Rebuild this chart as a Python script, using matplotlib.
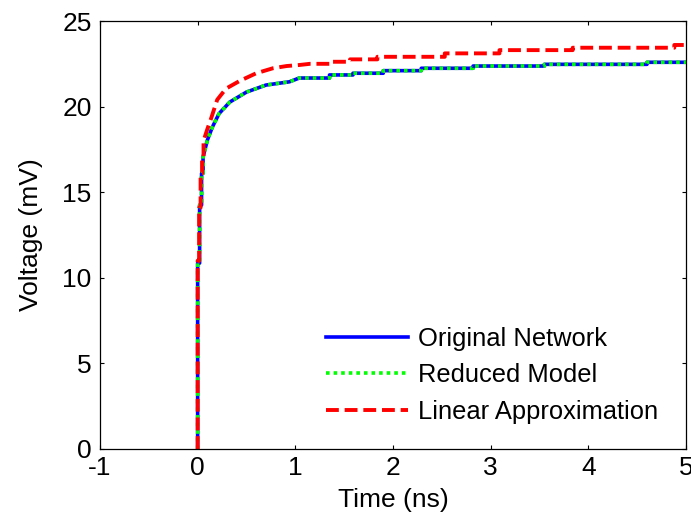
import numpy as np
import matplotlib
matplotlib.use('Agg')
import matplotlib.pyplot as plt

plt.rcParams['font.family'] = ['Liberation Sans', 'DejaVu Sans']
plt.rcParams['axes.unicode_minus'] = False

# time (ns) and voltage (mV)
t_orig = [0.0, 0.0, 0.02, 0.02, 0.04, 0.04, 0.055, 0.055, 0.1, 0.15, 0.22, 0.33, 0.5, 0.7, 0.94,
          1.04, 1.35, 1.35, 1.59, 1.59, 1.9, 1.9, 2.29, 2.29, 2.82, 2.82, 3.55, 3.55, 4.6, 4.6, 5.0]
v_orig = [0.0, 10.86, 10.86, 14.25, 14.25, 16.1, 16.1, 17.05, 18.05, 18.8, 19.6, 20.27, 20.85, 21.26, 21.45,
          21.67, 21.67, 21.85, 21.85, 21.95, 21.95, 22.1, 22.1, 22.24, 22.24, 22.37, 22.37, 22.47, 22.47, 22.59, 22.59]

t_red = [0.0, 0.0, 0.015, 0.015, 0.03, 0.03, 0.045, 0.045, 0.06, 0.06, 0.1, 0.14, 0.2, 0.29, 0.43, 0.6,
         0.77, 0.91, 1.04, 1.15, 1.35, 1.35, 1.56, 1.56, 1.84, 1.84, 2.53, 2.53, 3.09, 3.09, 3.84, 3.84,
         4.88, 4.88, 5.0]
v_red = [0.0, 11.0, 11.0, 14.1, 14.1, 16.1, 16.1, 17.05, 17.05, 18.0, 18.7, 19.35, 20.4, 21.05, 21.5, 21.95,
         22.24, 22.37, 22.43, 22.5, 22.5, 22.62, 22.62, 22.76, 22.76, 22.91, 22.91, 23.11, 23.11, 23.3, 23.3, 23.44,
         23.44, 23.6, 23.6]

xticks = [-1, 0, 1, 2, 3, 4, 5]
yticks = [0, 5, 10, 15, 20, 25]

fig = plt.figure(figsize=(6.91, 5.19), dpi=100)
ax = fig.add_axes([0.1447, 0.1349, 0.8481, 0.8246])

ax.plot(t_orig, v_orig, color='#0000ff', lw=2.6, label='Original Network')
ax.plot(t_orig, v_orig, color='#00ff00', lw=2.6, dashes=(1, 1.1), label='Reduced Model')
ax.plot(t_red, v_red, color='#ff0000', lw=2.8, dashes=(3.3, 1.5), label='Linear Approximation')

ax.set_xlim(-1, 5)
ax.set_ylim(0, 25)
ax.set_xticks(xticks)
ax.set_yticks(yticks)
ax.tick_params(direction='in', length=3, width=0.8, top=True, right=True, labelsize=19, pad=5)
ax.tick_params(axis='y', pad=6)
for s in ax.spines.values():
    s.set_linewidth(0.9)

ax.set_xlabel('Time (ns)', fontsize=19, labelpad=6)
ax.set_ylabel('Voltage (mV)', fontsize=19, labelpad=14)

ax.legend(loc='upper left', bbox_to_anchor=(0.386, 0.286), frameon=False, fontsize=18.4,
          handlelength=3.2, handletextpad=0.38, labelspacing=0.5, borderpad=0, borderaxespad=0)

fig.savefig('out.png', dpi=100)
